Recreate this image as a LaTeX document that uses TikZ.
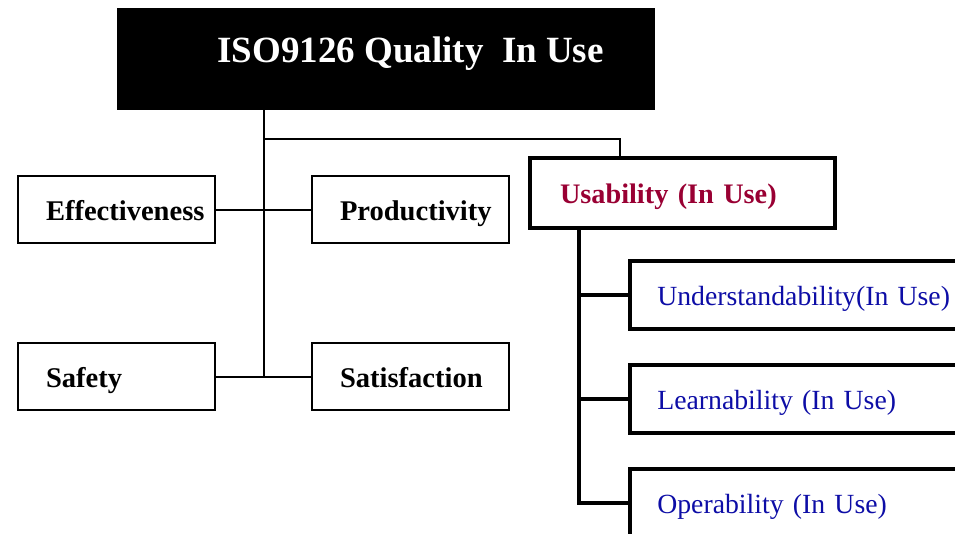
\documentclass[tikz,border=0pt]{standalone}
\usepackage{fontspec}
\setmainfont{Liberation Serif}
\usetikzlibrary{calc}

\definecolor{usered}{HTML}{990033}
\definecolor{subblue}{HTML}{0D0DA6}

\tikzset{
  thinline/.style={line width=1.5pt},
  thickline/.style={line width=3pt},
  boxtext/.style={anchor=north west, align=left, text height=17pt, text depth=1.25pt},
  leafbox/.style={boxtext, draw, thinline, inner xsep=21pt, text width=105.75pt, minimum height=50.25pt, font=\fontsize{21.4}{24}\selectfont\bfseries},
  usebox/.style={boxtext, draw, thickline, inner xsep=22.5pt, text width=183.75pt, minimum height=52.5pt, text=usered, font=\fontsize{21.2}{24}\selectfont\bfseries},
  subbox/.style={boxtext, draw, thickline, inner xsep=20.5pt, text width=290pt, minimum height=51pt, text=subblue, font=\fontsize{20.8}{24}\selectfont},
}

\begin{document}
\begin{tikzpicture}[x=0.75pt,y=0.75pt,yscale=-1,xscale=1]
\useasboundingbox (0,0) rectangle (955,533);
\clip (0,0) rectangle (955,533);

% Title box
\node [fill=black, draw=black, anchor=north west, inner sep=0pt, minimum width=402.75pt, minimum height=75.75pt] (iso) at (117,8) {};
% Text Node
\node [text=white, anchor=base west, inner sep=0pt, font=\fontsize{27.75}{30}\selectfont\bfseries] (isotext) at (217,62) {ISO9126 Quality\ \ In Use};

% Left boxes
\node [leafbox] (eff) at (17,175) {Effectiveness};
\node [leafbox] (prod) at (311,175) {Productivity};
\node [leafbox] (safe) at (17,342) {Safety};
\node [leafbox] (sat) at (311,342) {Satisfaction};

% Usability and its children
\node [usebox] (use) at (528,156) {Usability (In Use)};
\node [subbox] (under) at (628,259) {Understandability(In Use)};
\node [subbox] (learn) at (628,363) {Learnability (In Use)};
\node [subbox] (oper) at (628,467) {Operability (In Use)};

% Straight Lines
\coordinate (trunk) at ($(eff.east)!0.5!(prod.west)$);
\draw [thinline] (iso.south -| trunk) -- (trunk |- safe.east);
\draw [thinline] (eff.east) -- (prod.west);
\draw [thinline] (safe.east) -- (sat.west);
\coordinate (fork) at (620,139);
\draw [thinline] (trunk |- fork) -| (use.north -| fork);

% Thick Lines
\coordinate (sub) at ($(use.south west)+(51,0)$);
\draw [thickline] (sub) |- (oper.west);
\draw [thickline] (sub |- under.west) -- (under.west);
\draw [thickline] (sub |- learn.west) -- (learn.west);

\end{tikzpicture}
\end{document}
